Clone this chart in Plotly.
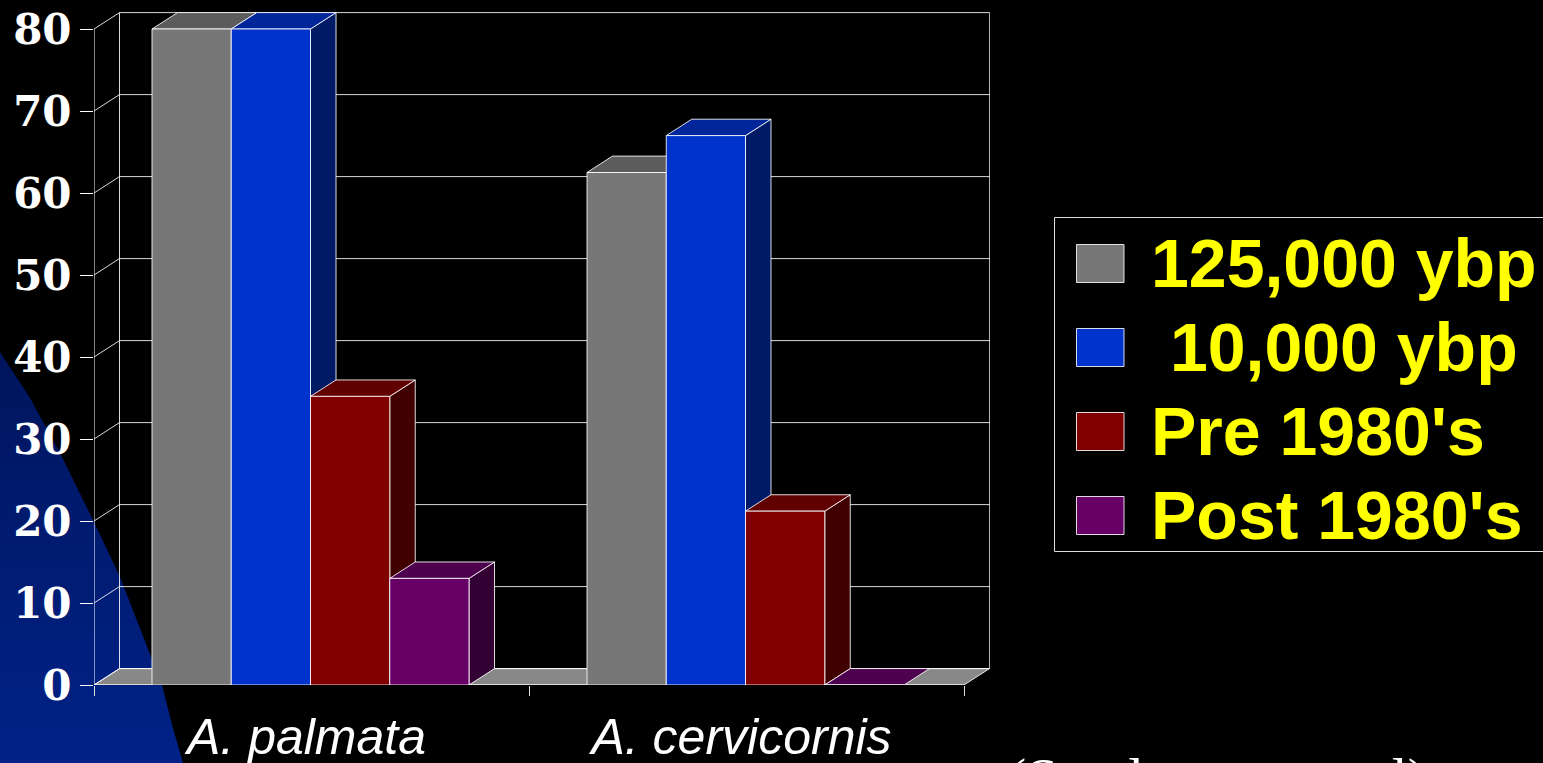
import plotly.graph_objects as go

# Chart data
species = ["A. palmata", "A. cervicornis"]
periods = ["125,000 ybp", "\u00a010,000 ybp", "Pre 1980's", "Post 1980's"]
ages_125k = [80, 62.5]
ages_10k = [80, 67]
pre_1980 = [35.2, 21.2]
post_1980 = [13, 0]
y_ticks = [0, 10, 20, 30, 40, 50, 60, 70, 80]

series = [ages_125k, ages_10k, pre_1980, post_1980]
front_colors = ["#777777", "#0033cc", "#800000", "#660066"]
top_colors = ["#5c5c5c", "#00269a", "#600000", "#4d004d"]
side_colors = ["#3c3c3c", "#001a66", "#400000", "#330033"]

W, H = 1543, 763
LEFT, RIGHT, TOP, BASE = 94, 1000, 12, 685
FIRST_GROUP_CENTER = 310.5  # page x of the first category
PX_PER_CAT = 435
PX_PER_UNIT = 8.2
DX = 25.5 / PX_PER_CAT      # chart depth along x, in category units
DY = 2.0                    # chart depth along y, in value units
BAR_W = 79.25 / PX_PER_CAT
EDGE = "rgba(255,255,255,0.85)"
GRID = "rgba(255,255,255,0.85)"
x_min = (LEFT - FIRST_GROUP_CENTER) / PX_PER_CAT
x_end = x_min + 2
x_max = x_min + (RIGHT - LEFT) / PX_PER_CAT
y_max = (BASE - TOP) / PX_PER_UNIT

fig = go.Figure()

# Slide backdrop: curved blue wedge in the lower-left corner (page pixel axes)
fig.add_trace(go.Scatter(
    x=[0, 30, 60, 93, 120, 140, 152, 162, 172, 183, 0, 0],
    y=[352, 398, 453, 520, 577, 628, 660, 685, 725, 763, 763, 352],
    mode="lines", line=dict(width=0), fill="toself", hoverinfo="skip",
    fillgradient=dict(type="vertical",
                      colorscale=[[0, "#002288"], [1, "#00155c"]]),
    xaxis="x", yaxis="y", showlegend=False))


def poly(xs, ys, fill, line=EDGE, width=1):
    fig.add_trace(go.Scatter(
        x=xs, y=ys, mode="lines", fill="toself", fillcolor=fill,
        line=dict(color=line, width=width), hoverinfo="skip",
        xaxis="x2", yaxis="y2", showlegend=False, cliponaxis=False))


def stroke(xs, ys, color=GRID):
    fig.add_trace(go.Scatter(
        x=xs, y=ys, mode="lines", line=dict(color=color, width=1),
        hoverinfo="skip", xaxis="x2", yaxis="y2", showlegend=False,
        cliponaxis=False))


# Floor of the 3D box
poly([x_min, x_min + DX, x_end + DX, x_end, x_min],
     [0, DY, DY, 0, 0], "#888888")

# Walls: gridlines run along the left wall and then across the back wall
for v in y_ticks:
    stroke([x_min, x_min + DX, x_end + DX], [v, v + DY, v + DY])
stroke([x_min + DX, x_min + DX], [DY, y_ticks[-1] + DY])
stroke([x_end + DX, x_end + DX], [DY, y_ticks[-1] + DY], "rgba(255,255,255,0.7)")

# Axis lines and value ticks' vertical spine
stroke([x_min, x_min], [0, y_ticks[-1]], "white")
stroke([x_min, x_end], [0, 0], "rgba(255,255,255,0.9)")

# Side and top faces, painted left to right so nearer faces overlap
for c in range(len(species)):
    for s, values in enumerate(series):
        v = values[c]
        x0 = c + (s - 2) * BAR_W
        x1 = x0 + BAR_W
        if v > 0:
            poly([x1, x1 + DX, x1 + DX, x1, x1],
                 [0, DY, v + DY, v, 0], side_colors[s])
        poly([x0, x0 + DX, x1 + DX, x1, x0],
             [v, v + DY, v + DY, v, v], top_colors[s])

# Front faces of the bars sit on the topmost axes
for s, values in enumerate(series):
    fig.add_trace(go.Bar(
        x=[0, 1], y=values, name=periods[s].strip(),
        marker=dict(color=front_colors[s], line=dict(color=EDGE, width=1)),
        xaxis="x3", yaxis="y3", showlegend=False, hoverinfo="skip"))

dom_x = [LEFT / W, RIGHT / W]
dom_y = [(H - BASE) / H, (H - TOP) / H]
hidden = dict(visible=False, fixedrange=True, automargin=False)

shapes = []
annotations = []

# Key: open-ended frame, swatches and labels
shapes.append(dict(type="rect", xref="paper", yref="paper",
                   x0=1054.5 / W, x1=1.01, y0=1 - 551.5 / H, y1=1 - 217.5 / H,
                   line=dict(color="#dddddd", width=1)))
swatch_tops = [244.5, 328.5, 412.5, 496.5]
label_mid = [263, 347, 431, 515]
for s, period in enumerate(periods):
    shapes.append(dict(type="rect", xref="paper", yref="paper",
                       x0=1076.5 / W, x1=1124 / W,
                       y0=1 - (swatch_tops[s] + 38) / H, y1=1 - swatch_tops[s] / H,
                       fillcolor=front_colors[s],
                       line=dict(color="rgba(255,255,255,0.85)", width=1)))
    annotations.append(dict(
        text=period, xref="paper", yref="paper", showarrow=False,
        x=1149 / W, xanchor="left", y=1 - label_mid[s] / H, yanchor="middle",
        font=dict(family="Liberation Sans", size=68, color="#ffff00", weight="bold")))

# Source note running off the bottom of the slide
annotations.append(dict(
    text="(Stanley personal)", xref="paper", yref="paper", showarrow=False,
    x=1005 / W, xanchor="left", y=1 - 745 / H, yanchor="top",
    font=dict(family="Liberation Serif", size=57.5, color="white")))

fig.update_layout(
    template="none",
    width=W, height=H, margin=dict(l=0, r=0, t=0, b=0),
    paper_bgcolor="black", plot_bgcolor="rgba(0,0,0,0)",
    barmode="group", bargap=1 - 4 * BAR_W, bargroupgap=0,
    showlegend=False, shapes=shapes, annotations=annotations,
    xaxis=dict(domain=[0, 1], range=[0, W], anchor="y", **hidden),
    yaxis=dict(domain=[0, 1], range=[H, 0], anchor="x", **hidden),
    xaxis2=dict(
        domain=dom_x, range=[x_min, x_max], anchor="y2", automargin=False,
        showgrid=False, zeroline=False, showline=False, fixedrange=True,
        tickmode="array", tickvals=[0, 1], ticktext=species,
        ticks="", ticklabelshift=-4, ticklabelstandoff=18,
        tickfont=dict(family="Liberation Sans", size=50, color="white",
                      style="italic"),
        minor=dict(tickmode="array", tickvals=[x_min, x_min + 1, x_end], ticks="outside",
                   ticklen=10, tickwidth=1, tickcolor="#dddddd", showgrid=False)),
    yaxis2=dict(
        domain=dom_y, range=[0, y_max], anchor="x2", automargin=False,
        showgrid=False, zeroline=False, showline=False, fixedrange=True,
        tickmode="array", tickvals=y_ticks, ticks="outside", ticklen=13,
        tickwidth=1, tickcolor="white", ticklabelstandoff=0,
        tickfont=dict(family="DejaVu Serif", size=42, color="white", weight="bold")),
    xaxis3=dict(range=[x_min, x_max], overlaying="x2", anchor="y3", **hidden),
    yaxis3=dict(range=[0, y_max], overlaying="y2", anchor="x3", **hidden),
)

fig.write_html("out.html", config={"displayModeBar": False})
